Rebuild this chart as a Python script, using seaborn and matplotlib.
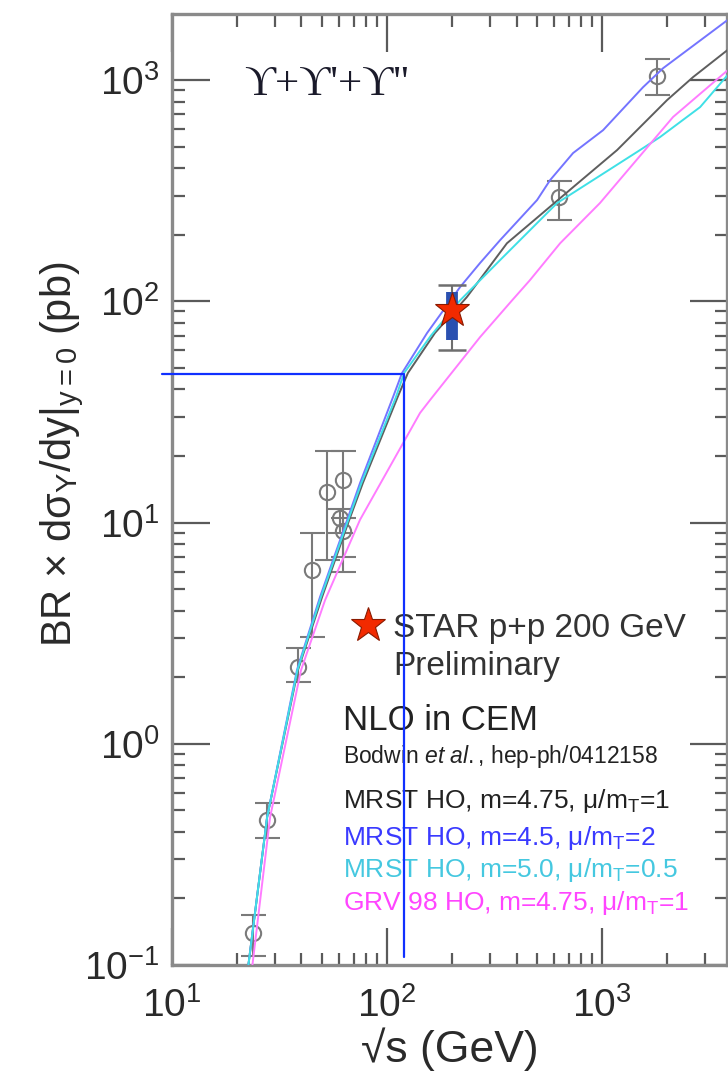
import matplotlib
matplotlib.use("Agg")
import matplotlib.pyplot as plt
import matplotlib.ticker as mticker
import pandas as pd
import seaborn as sns

# NLO CEM curves: sqrt(s) [GeV] vs BR*dsigma/dy [pb]
mrst_475_x = [22.0, 22.6, 27.7, 38.5, 49.9, 65.9, 77.2, 112, 125, 167, 235, 361, 733, 1175, 2005, 2650, 3950]
mrst_475_y = [0.085, 0.098, 0.467, 2.15, 4.61, 9.95, 15.1, 36.9, 47.4, 71.9, 104.5, 183, 328, 483, 812, 1032, 1400]

mrst_45_x = [22.0, 22.6, 27.7, 38.1, 48.8, 64.5, 74.9, 106.6, 117.4, 153.5, 218.6, 270.7, 335.5, 498.6, 573, 733, 1011, 1551, 1922, 3950]
mrst_45_y = [0.085, 0.098, 0.467, 2.15, 4.61, 9.95, 15.1, 36.9, 47.4, 71.9, 116, 149, 189, 287, 353, 468, 594, 929, 1132, 1910]

mrst_50_x = [22.0, 22.6, 27.7, 38.3, 49.3, 65.2, 76.0, 110, 120, 160, 218.6, 335.5, 617.5, 1502, 1861, 2857, 3950]
mrst_50_y = [0.085, 0.098, 0.467, 2.15, 4.61, 9.95, 15.1, 36.9, 47.4, 70.0, 101, 153.6, 278, 483, 553, 755, 1090]

grv_x = [22.8, 23.6, 28.6, 39.8, 51.5, 74.9, 142.4, 158.5, 270.7, 378, 462, 638, 977, 2138, 3950]
grv_y = [0.085, 0.098, 0.467, 2.15, 4.46, 10.3, 31.3, 35.8, 68.9, 100, 124.7, 183, 278, 681, 1135]

model_names = ["MRST HO, m=4.75", "MRST HO, m=4.5", "MRST HO, m=5.0", "GRV 98 HO"]
model_colors = ["#5e5e5e", "#7474ff", "#3fe0e6", "#ff7cff"]

# world data (open circles)
data_x = [23.8, 27.7, 38.5, 44.8, 52.6, 62.4, 60.4, 62.4, 630, 1800]
data_y = [0.14, 0.45, 2.23, 6.1, 13.7, 15.5, 10.5, 9.2, 296, 1042]
data_lo = [0.11, 0.376, 1.9, 3.05, 6.8, 6.0, 9.0, 7.0, 233, 855]
data_hi = [0.168, 0.54, 2.7, 9.0, 21.0, 21.0, 11.5, 10.5, 349, 1245]

# STAR preliminary
star_x = [200]
star_y = [91]
star_stat = [67, 110]
star_tot = [60, 118]

# blue guide lines drawn on the figure
guide_x = [9.0, 120, 120]
guide_y = [47, 47, 0.109]

legend_lines = [
    ("MRST HO, m=4.75, μ/m$_T$=1", "#222222"),
    ("MRST HO, m=4.5, μ/m$_T$=2", "#3a3aff"),
    ("MRST HO, m=5.0, μ/m$_T$=0.5", "#45c8e0"),
    ("GRV 98 HO, m=4.75, μ/m$_T$=1", "#ff45ff"),
]

sns.set_style("ticks")
plt.rcParams["font.family"] = ["Liberation Sans", "DejaVu Sans"]
plt.rcParams["mathtext.fontset"] = "custom"
plt.rcParams["mathtext.rm"] = "Liberation Sans"
plt.rcParams["mathtext.it"] = "Liberation Sans:italic"
plt.rcParams["mathtext.default"] = "regular"

curves = pd.concat([
    pd.DataFrame({"sqrt_s": xs, "sigma": ys, "model": name})
    for xs, ys, name in zip([mrst_475_x, mrst_45_x, mrst_50_x, grv_x],
                            [mrst_475_y, mrst_45_y, mrst_50_y, grv_y], model_names)
])

fig = plt.figure(figsize=(7.28, 10.86), dpi=100)
ax = fig.add_axes([172 / 728, 1 - 965 / 1086, 555 / 728, 951 / 1086])

sns.lineplot(data=curves, x="sqrt_s", y="sigma", hue="model", hue_order=model_names,
             palette=model_colors, sort=False, estimator=None, legend=False,
             linewidth=1.4, ax=ax, zorder=3)

ax.set_xscale("log")
ax.set_yscale("log")
ax.set_xlim(10, 3810)
ax.set_ylim(0.1, 1990)

# data points
for x, y, lo, hi in zip(data_x, data_y, data_lo, data_hi):
    ax.errorbar([x], [y], yerr=[[y - lo], [hi - y]], fmt="o", ms=11, mfc="none",
                mec="#7a7a7a", mew=1.5, ecolor="#7a7a7a", elinewidth=1.5,
                capsize=9, capthick=1.5, zorder=2)

# STAR point
ax.errorbar(star_x, star_y, yerr=[[star_y[0] - star_tot[0]], [star_tot[1] - star_y[0]]],
            fmt="none", ecolor="#6e6e6e", elinewidth=1.5, capsize=10, capthick=1.8, zorder=4)
ax.plot([star_x[0], star_x[0]], star_stat, color="#2a50b0", lw=8.5,
        solid_capstyle="butt", zorder=5)
ax.plot(star_x, star_y, marker="*", ms=26, mfc="#f22a00", mec="#8a1a00", mew=0.8,
        ls="none", zorder=6)

# guide lines
ax.plot(guide_x, guide_y, color="#1030ff", lw=1.6, clip_on=False, zorder=7)

# axes styling
for sp in ax.spines.values():
    sp.set_color("#8a8a8a")
    sp.set_linewidth(2.4)
ax.tick_params(which="both", direction="in", top=True, right=True,
               color="#5a5a5a", width=1.6, labelsize=28, labelcolor="#2a2a2a")
ax.tick_params(which="major", length=27)
ax.tick_params(which="minor", length=9)
ax.tick_params(axis="y", pad=9)
ax.tick_params(axis="x", pad=16)
ax.xaxis.set_minor_formatter(mticker.NullFormatter())
ax.yaxis.set_minor_formatter(mticker.NullFormatter())

ax.set_xlabel("√s (GeV)", fontsize=32, color="#2a2a2a")
ax.xaxis.set_label_coords(0.5, -0.066)
ax.set_ylabel(r"BR × dσ$_{\Upsilon}$/dy$|_{y=0}$ (pb)", fontsize=30, color="#2a2a2a")
ax.yaxis.set_label_coords(-0.155, 0.537)

# text block
ax.text(0.13, 0.915, "ϒ+ϒ'+ϒ''", transform=ax.transAxes, fontsize=31,
        family=["Liberation Serif", "DejaVu Serif"], color="#1a1a2a", va="baseline")
ax.plot([0.353], [0.3575], transform=ax.transAxes, marker="*", ms=26,
        mfc="#f22a00", mec="#8a1a00", mew=0.8, ls="none", clip_on=False)
ax.text(0.398, 0.345, "STAR p+p 200 GeV", transform=ax.transAxes, fontsize=24,
        color="#333333", va="baseline")
ax.text(0.398, 0.305, "Preliminary", transform=ax.transAxes, fontsize=24,
        color="#333333", va="baseline")
ax.text(0.308, 0.247, "NLO in CEM", transform=ax.transAxes, fontsize=25,
        color="#222222", va="baseline")
ax.text(0.308, 0.2124, r"Bodwin $\mathit{et\ al.}$, hep-ph/0412158", transform=ax.transAxes,
        fontsize=16.5, color="#222222", va="baseline")
for (label, col), yy in zip(legend_lines, [0.165, 0.1262, 0.0925, 0.0578]):
    ax.text(0.308, yy, label, transform=ax.transAxes, fontsize=19, color=col,
            va="baseline")

fig.savefig("out.png", dpi=100)
